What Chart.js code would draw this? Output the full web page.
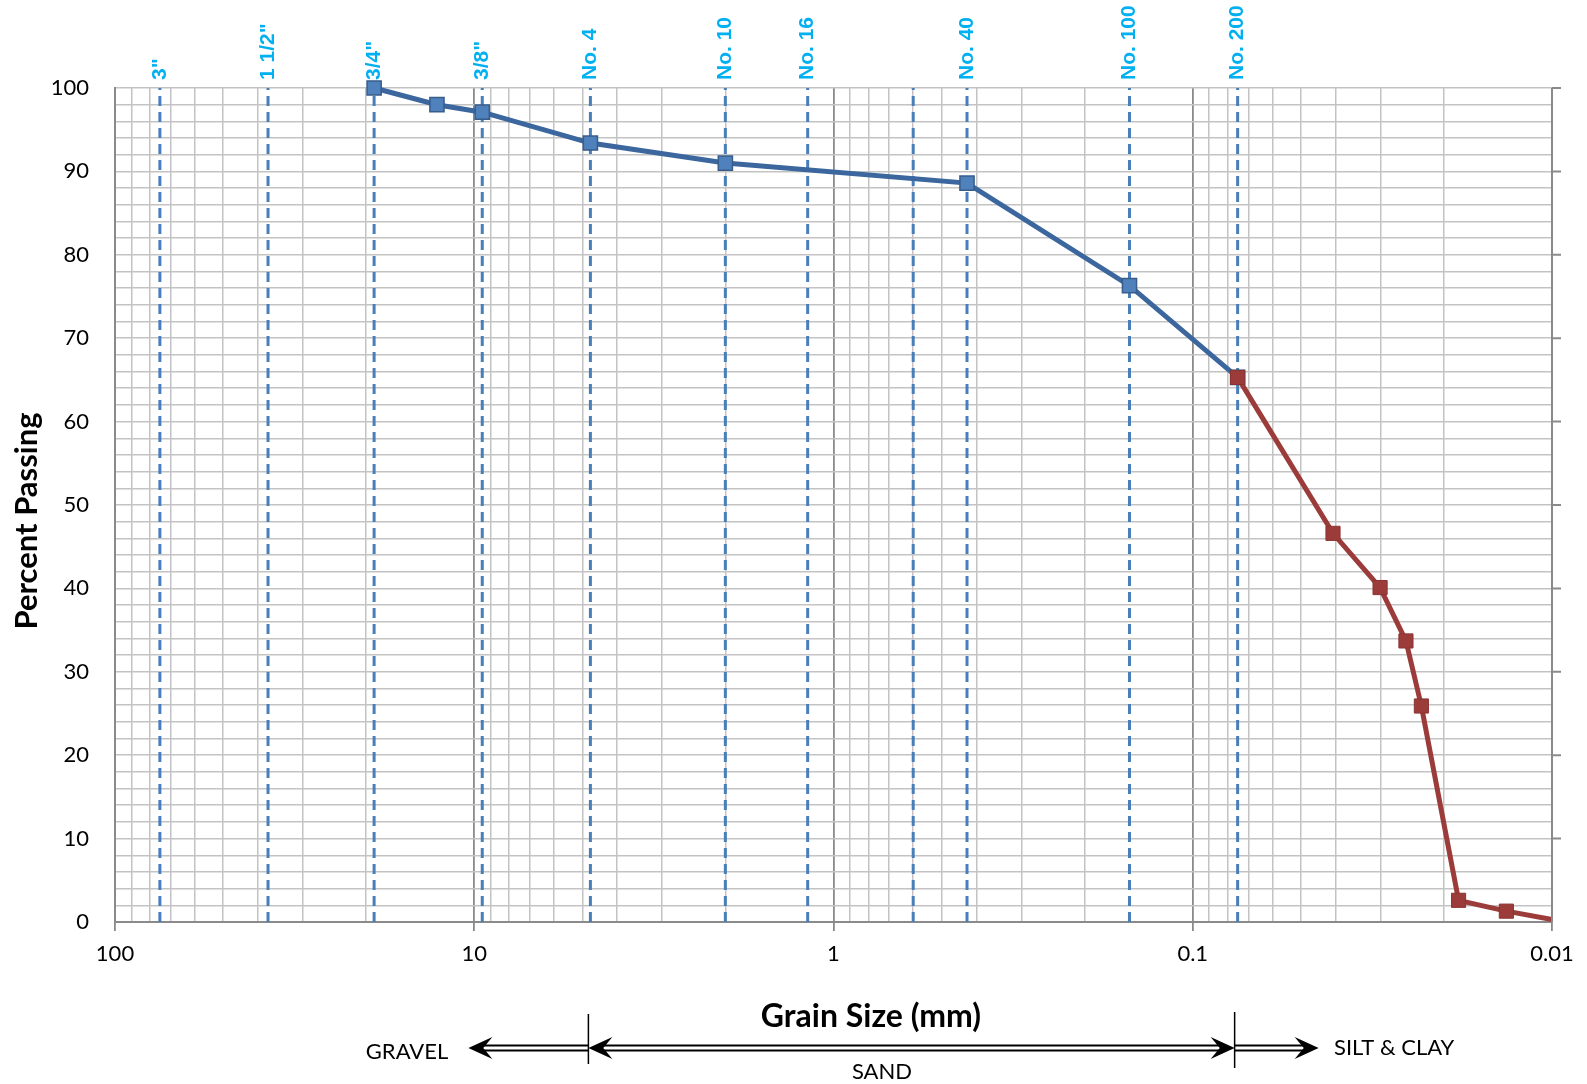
<!DOCTYPE html>
<html lang="en">
<head>
    <meta charset="UTF-8">
    <title>Grain Size Distribution</title>
    <style>
        body {
            margin: 0;
            background: #fff;
        }
        canvas {
            display: block;
        }
    </style>
</head>
<body>
    <canvas id="gradation-chart" width="1587" height="1084"></canvas>
    <script src="https://cdn.jsdelivr.net/npm/chart.js"></script>
    <script>
        // sieve data (mm / % passing)
        const coarseSizes = [19, 12.7, 9.5, 4.75, 2.0, 0.425, 0.15, 0.075];
        const coarsePassing = [100, 98.0, 97.1, 93.4, 91.0, 88.6, 76.3, 65.3];

        // hydrometer data
        const fineSizes = [0.075, 0.0407, 0.0301, 0.0255, 0.0231, 0.0182, 0.0134, 0.01];
        const finePassing = [65.3, 46.6, 40.1, 33.7, 25.9, 2.6, 1.3, 0.3];

        // standard sieve openings shown as dashed lines
        const sieveSizes = [75, 37.5, 19, 9.5, 4.75, 2.0, 1.18, 0.6, 0.425, 0.15, 0.075];
        const sieveLabels = ['3"', '1 1/2"', '3/4"', '3/8"', 'No. 4', 'No. 10', 'No. 16', '', 'No. 40', 'No. 100', 'No. 200'];

        // axis ticks
        const xDecades = [100, 10, 1, 0.1, 0.01];
        const xTickLabels = ['100', '10', '1', '0.1', '0.01'];
        const xMinorSteps = [1, 2, 3, 4, 5, 6, 7, 8, 9];
        const yMin = 0, yMax = 100, yGridStep = 2, yLabelStep = 10;

        const toPoints = (xs, ys) => xs.map((x, i) => ({ x: x, y: ys[i] }));

        const lightGrid = '#c3c3c3';
        const darkGrid = '#8a8a8a';

        const sieveDatasets = sieveSizes.map((s) => ({
            label: 'sieve',
            data: [{ x: s, y: yMin }, { x: s, y: yMax }],
            showLine: true,
            borderColor: '#4a7ebb',
            borderWidth: 3,
            borderDash: [10, 6],
            pointRadius: 0,
            order: 2
        }));

        function arrowHead(ctx, tipX, y, dir) {
            const L = 24, H = 22;
            ctx.beginPath();
            ctx.moveTo(tipX, y);
            ctx.lineTo(tipX - dir * L, y - H / 2);
            ctx.lineTo(tipX - dir * L * 0.62, y);
            ctx.lineTo(tipX - dir * L, y + H / 2);
            ctx.closePath();
            ctx.fill();
        }

        function doubleShaft(ctx, x1, x2, y) {
            ctx.beginPath();
            ctx.moveTo(x1, y - 2.5);
            ctx.lineTo(x2, y - 2.5);
            ctx.moveTo(x1, y + 2.5);
            ctx.lineTo(x2, y + 2.5);
            ctx.stroke();
        }

        const extrasPlugin = {
            id: 'extras',
            afterDraw(chart) {
                const ctx = chart.ctx;
                const xs = chart.scales.x;
                const ys = chart.scales.y;
                const area = chart.chartArea;
                ctx.save();

                // right axis border + ticks
                ctx.strokeStyle = darkGrid;
                ctx.lineWidth = 2;
                ctx.beginPath();
                ctx.moveTo(area.right, area.top);
                ctx.lineTo(area.right, area.bottom);
                for (let v = yMin + yLabelStep; v <= yMax; v += yLabelStep) {
                    const py = ys.getPixelForValue(v);
                    ctx.moveTo(area.right, py);
                    ctx.lineTo(area.right + 9, py);
                }
                ctx.stroke();

                // sieve labels
                ctx.fillStyle = '#00b0f0';
                ctx.font = 'bold 21px "Liberation Sans", Arial, sans-serif';
                ctx.textAlign = 'left';
                ctx.textBaseline = 'middle';
                sieveSizes.forEach((s, i) => {
                    if (!sieveLabels[i]) return;
                    const px = xs.getPixelForValue(s);
                    ctx.save();
                    ctx.translate(px, 80);
                    ctx.rotate(-Math.PI / 2);
                    ctx.fillText(sieveLabels[i], 0, 0);
                    ctx.restore();
                });

                // axis titles
                ctx.fillStyle = '#000';
                ctx.textAlign = 'center';
                ctx.font = 'bold 31px Lato, sans-serif';
                ctx.save();
                ctx.translate(27, 521);
                ctx.rotate(-Math.PI / 2);
                ctx.fillText('Percent Passing', 0, 0);
                ctx.restore();
                ctx.font = 'bold 32px Lato, sans-serif';
                ctx.fillText('Grain Size (mm)', 871, 1017);

                // soil classification arrows
                const xGravel = xs.getPixelForValue(4.75) - 2;
                const xFines = xs.getPixelForValue(0.075) - 3;
                const yArrow = 1048;
                ctx.strokeStyle = '#000';
                ctx.lineWidth = 1.5;
                ctx.beginPath();
                ctx.moveTo(xGravel, 1014);
                ctx.lineTo(xGravel, 1064);
                ctx.moveTo(xFines, 1012);
                ctx.lineTo(xFines, 1068);
                ctx.stroke();

                ctx.lineWidth = 2;
                doubleShaft(ctx, xGravel - 110, xGravel, yArrow);
                arrowHead(ctx, xGravel - 120, yArrow, -1);
                doubleShaft(ctx, xGravel + 12, xFines - 12, yArrow);
                arrowHead(ctx, xGravel, yArrow, -1);
                arrowHead(ctx, xFines, yArrow, 1);
                doubleShaft(ctx, xFines, xFines + 74, yArrow);
                arrowHead(ctx, xFines + 84, yArrow, 1);

                ctx.font = '22px Lato, sans-serif';
                ctx.textAlign = 'center';
                ctx.fillText('GRAVEL', 407, 1052);
                ctx.fillText('SAND', 882, 1072);
                ctx.textAlign = 'left';
                ctx.fillText('SILT & CLAY', 1334, 1048);

                ctx.restore();
            }
        };

        Chart.defaults.font.family = 'Lato, sans-serif';

        new Chart(document.getElementById('gradation-chart').getContext('2d'), {
            type: 'scatter',
            data: {
                datasets: [
                    {
                        label: 'Hydrometer',
                        data: toPoints(fineSizes, finePassing),
                        showLine: true,
                        borderColor: '#9b3c3a',
                        borderWidth: 5,
                        pointStyle: 'rect',
                        pointRadius: (c) => c.dataIndex === fineSizes.length - 1 ? 0 : 10,
                        pointBackgroundColor: '#9b3c3a',
                        pointBorderColor: '#8c3432',
                        pointBorderWidth: 1,
                        clip: false,
                        order: 0
                    },
                    {
                        label: 'Sieve',
                        data: toPoints(coarseSizes, coarsePassing),
                        showLine: true,
                        borderColor: '#3b679e',
                        borderWidth: 5,
                        pointStyle: 'rect',
                        pointRadius: 10,
                        pointBackgroundColor: '#4f81bd',
                        pointBorderColor: '#385d8a',
                        pointBorderWidth: 1.5,
                        clip: false,
                        order: 1
                    },
                    ...sieveDatasets
                ]
            },
            options: {
                responsive: false,
                animation: false,
                events: [],
                layout: {
                    padding: { top: 88, right: 35, left: 0, bottom: 0 }
                },
                plugins: {
                    legend: { display: false },
                    tooltip: { enabled: false }
                },
                scales: {
                    x: {
                        type: 'logarithmic',
                        reverse: true,
                        min: 0.01,
                        max: 100,
                        afterBuildTicks: (scale) => {
                            const ticks = [];
                            xDecades.forEach((d) => {
                                if (d === 100) { ticks.push({ value: d }); return; }
                                xMinorSteps.forEach((m) => ticks.push({ value: d * m }));
                            });
                            scale.ticks = ticks;
                        },
                        afterFit: (scale) => { scale.height = 162; },
                        border: { color: darkGrid, width: 2 },
                        grid: {
                            color: (c) => xDecades.includes(c.tick.value) ? darkGrid : lightGrid,
                            lineWidth: (c) => xDecades.includes(c.tick.value) ? 1.8 : 1.5,
                            tickColor: (c) => xDecades.includes(c.tick.value) ? darkGrid : 'rgba(0,0,0,0)',
                            tickLength: 9
                        },
                        ticks: {
                            autoSkip: false,
                            maxRotation: 0,
                            padding: 10,
                            color: '#000',
                            font: { size: 22 },
                            callback: (value) => {
                                const i = xDecades.indexOf(value);
                                return i >= 0 ? xTickLabels[i] : '';
                            }
                        }
                    },
                    y: {
                        min: yMin,
                        max: yMax,
                        afterFit: (scale) => { scale.width = 115; },
                        border: { color: darkGrid, width: 2 },
                        grid: {
                            color: lightGrid,
                            lineWidth: 1.5,
                            drawTicks: false
                        },
                        ticks: {
                            stepSize: yGridStep,
                            autoSkip: false,
                            padding: 26,
                            color: '#000',
                            font: { size: 22 },
                            callback: (value) => value % yLabelStep === 0 ? value : ''
                        }
                    }
                }
            },
            plugins: [extrasPlugin]
        });
    </script>
</body>
</html>
